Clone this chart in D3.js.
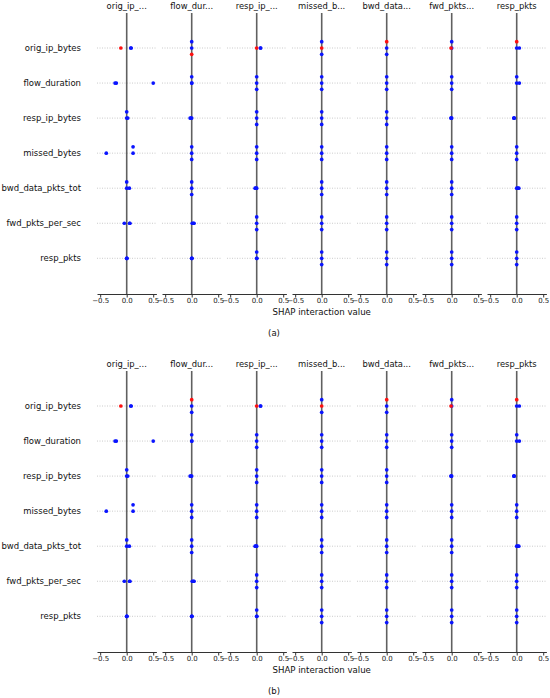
<!DOCTYPE html>
<html>
<head>
<meta charset="utf-8">
<script src="https://cdn.jsdelivr.net/npm/d3@7"></script>
<style>
  body { margin: 0; background: #fff; }
  text { font-family: "DejaVu Sans", sans-serif; }
</style>
</head>
<body>
<svg id="chart" width="550" height="698"></svg>
<script>
// features, top to bottom
const features = ['orig_ip_bytes', 'flow_duration', 'resp_ip_bytes', 'missed_bytes',
    'bwd_data_pkts_tot', 'fwd_pkts_per_sec', 'resp_pkts'];
const colTitles = ['orig_ip_...', 'flow_dur...', 'resp_ip_...', 'missed_b...',
    'bwd_data...', 'fwd_pkts...', 'resp_pkts'];
const tickValues = [-0.5, 0, 0.5];
const xDomain = [-0.56, 0.56];

// one entry per row feature, each lists [SHAP interaction value, high feature value (1) or low (0)] per sample
const colOrigIp = [
    [[-0.11, 1], [0.075, 0], [0.085, 0]],
    [[-0.22, 0], [-0.195, 0], [0.5, 0]],
    [[0, 0], [0, 0], [0.02, 0]],
    [[0.12, 0], [0.12, 0], [-0.385, 0]],
    [[0, 0], [0, 0], [0.05, 0]],
    [[-0.045, 0], [0.055, 0], [0.06, 0]],
    [[0, 0], [0.002, 0], [0.004, 0]]
];
const colFlowDurA = [
    [[0, 0], [0, 0], [0, 1]],
    [[0, 0], [0, 0], [0.003, 0]],
    [[-0.03, 0], [-0.015, 0], [0, 0]],
    [[0, 0], [0, 0], [0, 0]],
    [[0, 0], [0, 0], [0, 0]],
    [[0.01, 0], [0.03, 0], [0.045, 0]],
    [[0, 0], [0.002, 0], [0.004, 0]]
];
const colFlowDurB = [
    [[0, 0], [0, 1], [0, 0]],
    [[0, 0], [0, 0], [0.003, 0]],
    [[-0.03, 0], [-0.015, 0], [0, 0]],
    [[0, 0], [0, 0], [0, 0]],
    [[0, 0], [0, 0], [0, 0]],
    [[0.01, 0], [0.03, 0], [0.045, 0]],
    [[0, 0], [0.002, 0], [0.004, 0]]
];
const colRespIp = [
    [[0, 1], [0.07, 0], [0.075, 0]],
    [[0, 0], [0, 0], [0, 0]],
    [[0, 0], [0, 0], [0, 0]],
    [[0, 0], [0, 0], [0, 0]],
    [[-0.03, 0], [-0.015, 0], [0, 0]],
    [[0, 0], [0, 0], [0, 0]],
    [[0, 0], [0, 0], [0.003, 0]]
];
const colMissed = [
    [[0, 1], [0, 0], [0, 0]],
    [[0, 0], [0, 0], [0, 0]],
    [[0, 0], [0, 0], [0, 0]],
    [[0, 0], [0, 0], [0, 0]],
    [[0, 0], [0, 0], [0, 0]],
    [[0, 0], [0, 0], [0, 0]],
    [[0, 0], [0, 0], [0, 0]]
];
const colBwd = [
    [[0, 0], [0, 1], [0, 0]],
    [[0, 0], [0, 0], [0, 0]],
    [[0, 0], [0, 0], [0, 0]],
    [[0, 0], [0, 0], [0, 0]],
    [[0, 0], [0, 0], [0, 0]],
    [[0, 0], [0, 0], [0, 0]],
    [[0, 0], [0, 0], [0, 0]]
];
const colFwd = [
    [[0, 0], [0, 0], [-0.012, 1]],
    [[0, 0], [0, 0], [0, 0]],
    [[-0.015, 0], [-0.008, 0], [0, 0]],
    [[0, 0], [0, 0], [0, 0]],
    [[0, 0], [0, 0], [0, 0]],
    [[0, 0], [0, 0], [0, 0]],
    [[0, 0], [0, 0], [0, 0]]
];
const colRespPkts = [
    [[0, 0], [0, 1], [0.05, 0]],
    [[0, 0], [0, 0], [0.05, 0]],
    [[-0.055, 0], [-0.05, 0], [-0.045, 0]],
    [[0, 0], [0, 0], [0, 0]],
    [[0, 0], [0.02, 0], [0.04, 0]],
    [[0, 0], [0, 0], [0, 0]],
    [[0, 0], [0, 0], [0, 0]]
];

const panels = [
    {label: '(a)', top: 0, cols: [colOrigIp, colFlowDurA, colRespIp, colMissed, colBwd, colFwd, colRespPkts]},
    {label: '(b)', top: 358, cols: [colOrigIp, colFlowDurB, colRespIp, colMissed, colBwd, colFwd, colRespPkts]}
];

const blue = '#0a14ff', red = '#ff1010';
const colLeft = 97, colStep = 65, colWidth = 59.4;
const axisY = 294, lineTop = 13;

const y = d3.scalePoint().domain(features).range([48, 258.3]);
const rowStep = y.step();

// shap style beeswarm: quantize values, stack equal bins alternately up / down
function swarm(points) {
    const vals = points.map(p => p[0]);
    const lo = d3.min(vals), hi = d3.max(vals);
    const quant = vals.map(v => Math.round(100 * (v - lo) / (hi - lo + 1e-8)));
    const order = d3.range(points.length).sort((i, j) => quant[i] - quant[j] || i - j);
    let layer = 0, last = -1;
    const ys = [];
    order.forEach(i => {
        if (quant[i] !== last) layer = 0;
        ys[i] = Math.ceil(layer / 2) * ((layer % 2) * 2 - 1);
        layer++;
        last = quant[i];
    });
    const m = d3.max(ys, d => d + 1);
    return points.map((p, i) => ({v: p[0], high: p[1], dy: ys[i] * 0.9 * 0.4 / m}));
}

const svg = d3.select('#chart');

panels.forEach(panel => {
    const g = svg.append('g').attr('transform', `translate(0,${panel.top})`);

    g.selectAll('.rowlabel').data(features).enter().append('text')
        .attr('class', 'rowlabel')
        .attr('x', 81)
        .attr('y', d => y(d) + 3)
        .attr('text-anchor', 'end')
        .attr('font-size', 8.5)
        .attr('fill', '#111')
        .text(d => d);

    panel.cols.forEach((col, ci) => {
        const left = colLeft + ci * colStep;
        const x = d3.scaleLinear().domain(xDomain).range([left, left + colWidth]);
        const cg = g.append('g');

        cg.selectAll('.grid').data(features).enter().append('line')
            .attr('x1', left).attr('x2', left + colWidth)
            .attr('y1', d => y(d)).attr('y2', d => y(d))
            .attr('stroke', '#b5b5b5')
            .attr('stroke-width', 0.7)
            .attr('stroke-dasharray', '1,1.5');

        cg.append('line')
            .attr('x1', x(0)).attr('x2', x(0))
            .attr('y1', lineTop).attr('y2', axisY)
            .attr('stroke', '#606060')
            .attr('stroke-width', 1.6);

        col.forEach((pts, ri) => {
            const rowY = y(features[ri]);
            cg.selectAll(null).data(swarm(pts)).enter().append('circle')
                .attr('cx', d => x(d.v))
                .attr('cy', d => rowY - d.dy * rowStep)
                .attr('r', 1.85)
                .attr('fill', d => d.high ? red : blue);
        });

        const ax = cg.append('g')
            .attr('transform', `translate(0,${axisY})`)
            .call(d3.axisBottom(x).tickValues(tickValues).tickSize(3.5).tickSizeOuter(0).tickPadding(1)
                .tickFormat(d3.format('.1f')));
        ax.select('.domain').attr('stroke', '#333').attr('stroke-width', 1);
        ax.selectAll('.tick line').attr('stroke', '#333');
        ax.selectAll('.tick text').attr('font-size', 7).attr('fill', '#1a1a1a')
            .attr('font-family', '"DejaVu Sans", sans-serif');

        cg.append('text')
            .attr('x', x(0))
            .attr('y', 9)
            .attr('text-anchor', 'middle')
            .attr('font-size', 8.4)
            .attr('fill', '#111')
            .text(colTitles[ci]);
    });

    g.append('text')
        .attr('x', colLeft + 3 * colStep + colWidth / 2)
        .attr('y', 315)
        .attr('text-anchor', 'middle')
        .attr('font-size', 8.6)
        .attr('fill', '#111')
        .text('SHAP interaction value');

    g.append('text')
        .attr('x', 274)
        .attr('y', 336)
        .attr('text-anchor', 'middle')
        .attr('font-size', 8.5)
        .attr('font-family', '"Liberation Serif", serif')
        .attr('fill', '#111')
        .text(panel.label);
});
</script>
</body>
</html>
